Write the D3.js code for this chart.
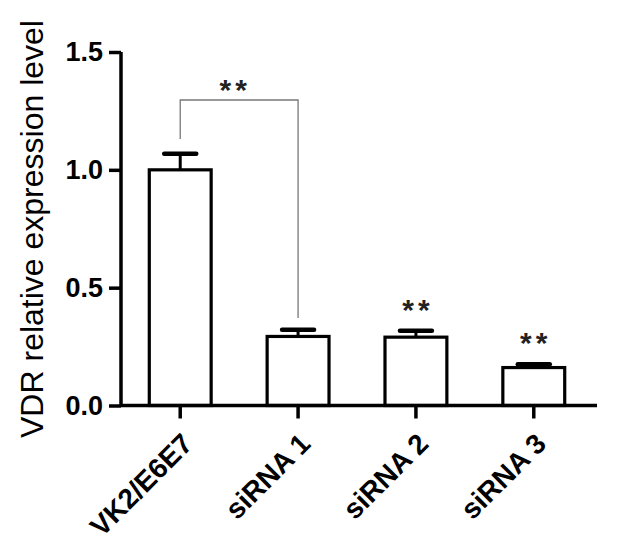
<!DOCTYPE html>
<html>
<head>
<meta charset="utf-8">
<script src="https://d3js.org/d3.v7.min.js"></script>
<style>
  body { margin: 0; background: #fff; }
  text { font-family: "Liberation Sans", Arial, sans-serif; }
</style>
</head>
<body>
<div id="chart"></div>
<script>
// data
const groups = ["VK2/E6E7", "siRNA 1", "siRNA 2", "siRNA 3"];
const means = [1.0, 0.293, 0.29, 0.161];
const sems = [0.068, 0.028, 0.027, 0.014];
const stars = ["", "", "**", "**"];
const yTicks = [0.0, 0.5, 1.0, 1.5];

const w = 618, h = 554;
const svg = d3.select("#chart").append("svg")
  .attr("width", w)
  .attr("height", h);

const x = d3.scaleBand()
  .domain(groups)
  .range([121, 593])
  .paddingInner(0.475)
  .paddingOuter(0.24);

const y = d3.scaleLinear()
  .domain([0, 1.5])
  .range([405.5, 52]);

// bars
svg.selectAll("rect.bar")
  .data(groups)
  .enter().append("rect")
  .attr("class", "bar")
  .attr("x", d => x(d))
  .attr("y", (d, i) => y(means[i]))
  .attr("width", x.bandwidth())
  .attr("height", (d, i) => y(0) - y(means[i]))
  .attr("fill", "#fff")
  .attr("stroke", "#000")
  .attr("stroke-width", 3.2);

// error bars (upper only)
const cx = d => x(d) + x.bandwidth() / 2;
svg.selectAll("line.err")
  .data(groups)
  .enter().append("line")
  .attr("x1", cx).attr("x2", cx)
  .attr("y1", (d, i) => y(means[i]))
  .attr("y2", (d, i) => y(means[i] + sems[i]))
  .attr("stroke", "#000")
  .attr("stroke-width", 3);

svg.selectAll("line.cap")
  .data(groups)
  .enter().append("line")
  .attr("x1", d => cx(d) - 16).attr("x2", d => cx(d) + 16)
  .attr("y1", (d, i) => y(means[i] + sems[i]))
  .attr("y2", (d, i) => y(means[i] + sems[i]))
  .attr("stroke", "#000")
  .attr("stroke-width", 4.5)
  .attr("stroke-linecap", "round");

// axes
const yAxis = svg.append("g")
  .attr("transform", "translate(121,0)")
  .call(d3.axisLeft(y).tickValues(yTicks).tickFormat(d3.format(".1f")).tickSize(12).tickPadding(6));
yAxis.select(".domain").attr("d", `M0,${y(1.5)}V${y(0)}`);

const xAxis = svg.append("g")
  .attr("transform", `translate(0,${y(0)})`)
  .call(d3.axisBottom(x).tickSize(13).tickSizeOuter(0));
xAxis.select(".domain").attr("d", "M121,0H597");

svg.selectAll(".domain, .tick line")
  .attr("stroke", "#000")
  .attr("stroke-width", 3.5);

yAxis.selectAll(".tick text")
  .attr("font-size", 27)
  .attr("font-weight", "bold")
  .attr("fill", "#000");

xAxis.selectAll(".tick text")
  .attr("font-size", 28)
  .attr("font-weight", "bold")
  .attr("fill", "#000")
  .attr("text-anchor", "end")
  .attr("dy", null)
  .attr("y", 0)
  .attr("transform", "translate(14,40) rotate(-45)");

// y axis title
svg.append("text")
  .attr("transform", "translate(43,229) rotate(-90)")
  .attr("text-anchor", "middle")
  .attr("font-size", 32)
  .attr("fill", "#000")
  .text("VDR relative expression level");

// significance bracket between first two groups
const bx1 = cx(groups[0]), bx2 = cx(groups[1]);
svg.append("path")
  .attr("d", `M${bx1},139V100H${bx2}V318`)
  .attr("fill", "none")
  .attr("stroke", "#777")
  .attr("stroke-width", 1.3);

svg.append("text")
  .attr("x", (bx1 + bx2) / 2 - 4)
  .attr("y", 100)
  .attr("text-anchor", "middle")
  .attr("font-size", 30)
  .attr("font-weight", "bold")
  .attr("letter-spacing", 4)
  .attr("fill", "#222")
  .text("**");

// stars above bars
svg.selectAll("text.star")
  .data(groups)
  .enter().append("text")
  .attr("class", "star")
  .attr("x", d => cx(d) + 2)
  .attr("y", (d, i) => y(means[i] + sems[i]) - 11)
  .attr("text-anchor", "middle")
  .attr("font-size", 30)
  .attr("font-weight", "bold")
  .attr("letter-spacing", 4)
  .attr("fill", "#222")
  .text((d, i) => stars[i]);
</script>
</body>
</html>
